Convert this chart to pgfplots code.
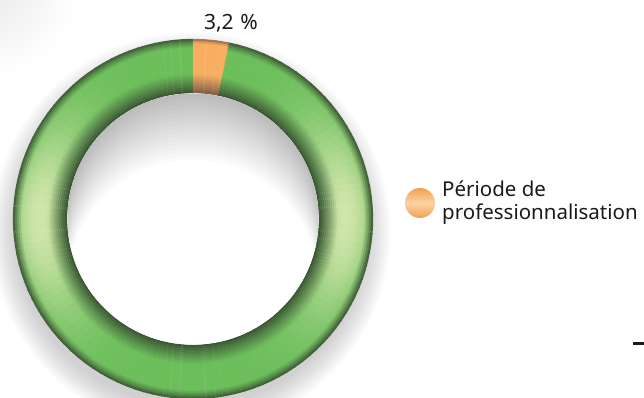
\documentclass[border=0pt]{standalone}
\usepackage{pgfplots}
\pgfplotsset{compat=1.18}
\usepackage{pgfplotstable}
\usepackage{fontspec}
\setmainfont{Noto Sans}
\definecolor{gg}{HTML}{6BBE5A}
\definecolor{gl}{HTML}{D0E5AA}
\definecolor{gd}{HTML}{3A5133}
\definecolor{og}{HTML}{F7AE60}
\definecolor{od}{HTML}{7A5A45}
\definecolor{lo1}{HTML}{F3A04E}
\definecolor{lo2}{HTML}{FBD3A6}
\definecolor{txt}{HTML}{1A1A1A}

\pgfplotstableread{
label value
Autre 96.8
Periode 3.2
}\piedata

\begin{document}
\begin{tikzpicture}
\pgfplotstablegetelem{0}{value}\of\piedata \let\vA\pgfplotsretval
\pgfplotstablegetelem{1}{value}\of\piedata \let\vB\pgfplotsretval
\begin{axis}[name=ax, hide axis, scale only axis, width=644pt, height=398pt,
  xmin=0, xmax=644, ymin=0, ymax=398, clip=true]
\pgfplotsextra{
  \coordinate (C) at (axis cs:193,179);
  % corner shade
  \shade[inner color=black!9, outer color=white] (axis cs:-15,415) circle[radius=95pt];
  % drop shadow
  \foreach \k in {0,...,9} {
    \fill[black, opacity=0.018] ([yshift=-13pt,xshift=-2pt]C) circle[radius={176pt+2.6pt*\k}];
  }
  \fill[white] (C) circle[radius=180pt];
  % angles from data
  \pgfmathsetmacro\aMid{90-3.6*\vB}
  \pgfmathsetmacro\aEnd{\aMid-3.6*\vA}
  % green slice
  \pgfmathsetmacro\spanG{\aMid-\aEnd}
  \pgfmathtruncatemacro\nG{ceil(\spanG/3)}
  \pgfmathsetmacro\stG{\spanG/\nG}
  \foreach \i in {1,...,\nG} {
    \pgfmathsetmacro\a{\aEnd+(\i-1)*\stG}
    \pgfmathsetmacro\b{\a+\stG+0.4}
    \pgfmathsetmacro\m{\a+\stG/2}
    \pgfmathsetmacro\w{abs(cos(\m))^4.5}
    \foreach \r in {127,129,...,179} {
      \pgfmathsetmacro\t{(\r-126)/54}
      \pgfmathsetmacro\ww{100*\w*sin(180*\t)^0.6}
      \colorlet{basec}{gl!\ww!gg}
      \pgfmathsetmacro\s{100*min(1,min((\t/0.36)^0.9,((1-\t)/0.16)^0.8))}
      \draw[basec!\s!gd, line width=2.3pt] ([shift={(\a:\r pt)}]C) arc[start angle=\a, end angle=\b, radius=\r pt];
    }
  }
  % orange slice
  \pgfmathsetmacro\spanO{90-\aMid}
  \pgfmathsetmacro\stO{\spanO/3}
  \foreach \i in {1,2,3} {
    \pgfmathsetmacro\a{\aMid+(\i-1)*\stO}
    \pgfmathsetmacro\b{\a+\stO+(\i<3?0.3:0)}
    \foreach \r in {127,129,...,179} {
      \pgfmathsetmacro\t{(\r-126)/54}
      \pgfmathsetmacro\s{100*min(1,min((\t/0.36)^0.9,((1-\t)/0.08)^0.7))}
      \draw[og!\s!od, line width=2.3pt] ([shift={(\a:\r pt)}]C) arc[start angle=\a, end angle=\b, radius=\r pt];
    }
  }
  % inner hole shadow
  \begin{scope}
    \clip (C) circle[radius=125.5pt];
    \fill[white] (C) circle[radius=126pt];
    \foreach \d in {3,7,...,67} {
      \fill[black, opacity=0.017, even odd rule] (C) circle[radius=126pt] ([yshift=-\d pt]C) circle[radius=126pt];
    }
  \end{scope}
  % labels
  \node[anchor=base, text=txt, font=\fontsize{21}{24}\selectfont] at (axis cs:231,368.7) {3,2\hspace{0.32em}\%};
  \shade[top color=lo1, bottom color=lo1, middle color=lo2] (axis cs:420,195) circle[radius=15pt];
  \node[anchor=base west, inner sep=0pt, text=txt, font=\fontsize{20.5}{24}\selectfont] at (axis cs:442,201.3) {Période de};
  \node[anchor=base west, inner sep=0pt, text=txt, font=\fontsize{20.5}{24}\selectfont] at (axis cs:442,178) {professionnalisation};
  \draw[line width=3pt, txt] (axis cs:633,54.5) -- (axis cs:645,54.5);
}
\end{axis}
\pgfresetboundingbox
\path (ax.south west) rectangle (ax.north east);
\end{tikzpicture}
\end{document}
